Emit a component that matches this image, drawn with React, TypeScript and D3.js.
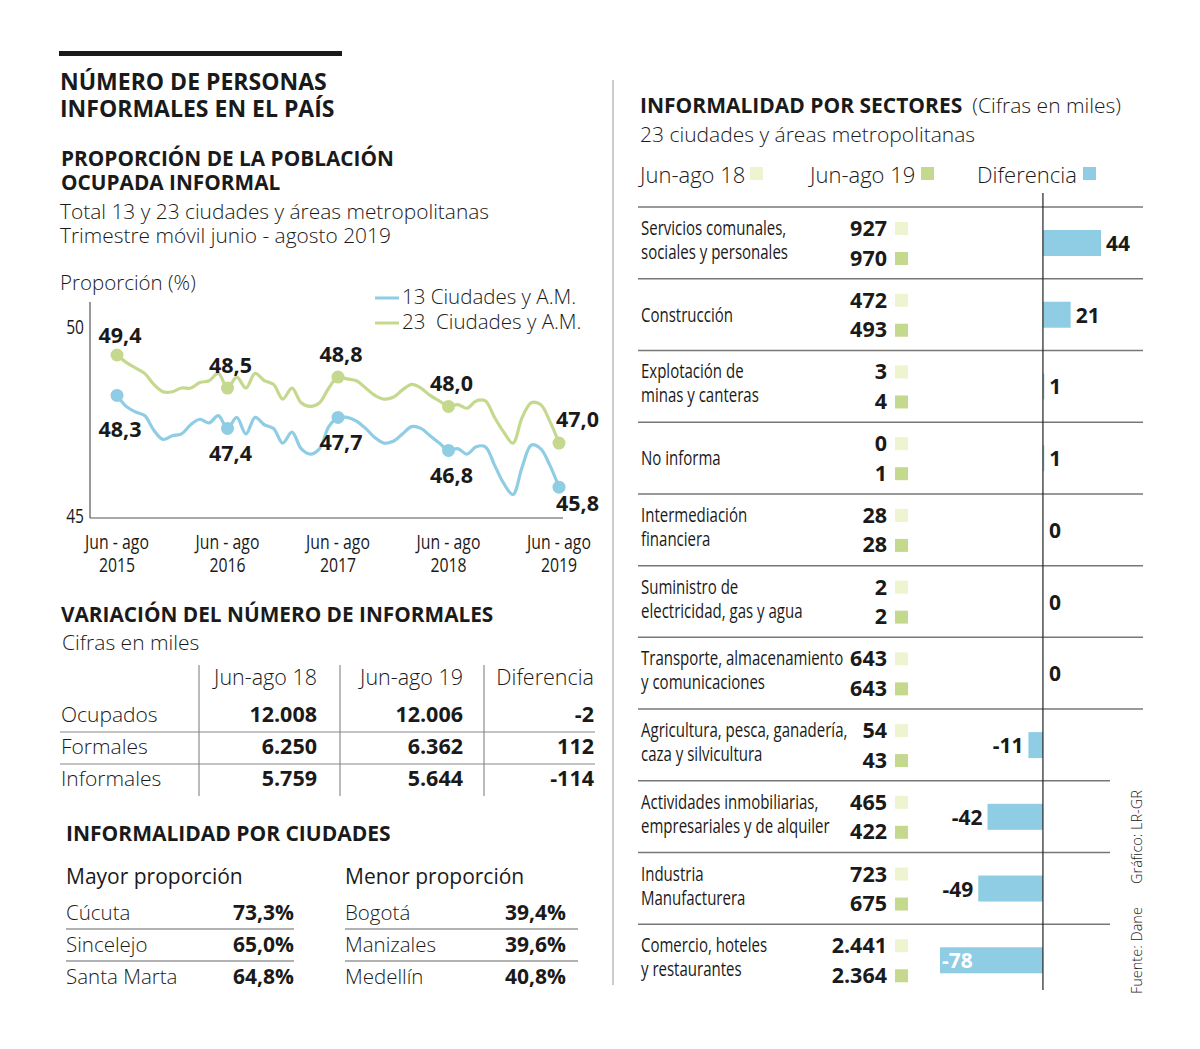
import * as d3 from 'd3';

// monthly rolling quarters, jun-ago 2015 ... jun-ago 2019
const MONTHS_13 = [
  48.3, 48.0, 47.85, 47.75, 47.35, 47.1, 47.2, 47.25, 47.5, 47.65, 47.55, 47.75,
  47.4, 47.7, 47.25, 47.7, 47.5, 47.4, 47.0, 47.3, 46.85, 46.7, 46.85, 47.45,
  47.7, 47.7, 47.6, 47.4, 47.15, 47.0, 47.05, 47.25, 47.45, 47.4, 47.2, 47.0,
  46.8, 46.85, 46.7, 46.9, 46.9, 46.4, 45.9, 45.6, 46.35, 46.95, 46.85, 46.4,
  45.8,
];
const MONTHS_23 = [
  49.4, 49.2, 49.05, 48.9, 48.6, 48.4, 48.4, 48.5, 48.5, 48.65, 48.7, 48.9,
  48.5, 48.8, 48.5, 48.9, 48.7, 48.6, 48.2, 48.5, 48.1, 48.0, 48.1, 48.5,
  48.8, 48.75, 48.7, 48.5, 48.3, 48.2, 48.25, 48.45, 48.6, 48.5, 48.3, 48.15,
  48.0, 48.05, 47.95, 48.15, 48.15, 47.7, 47.3, 47.0, 47.7, 48.1, 48.05, 47.6,
  47.0,
];
const YEARS = ['2015', '2016', '2017', '2018', '2019'];
const Y_TICKS = [45, 50];

const VAR_ROWS = ['Ocupados', 'Formales', 'Informales'];
const VAR_COLS = ['Jun-ago 18', 'Jun-ago 19', 'Diferencia'];
const VAR_18 = [12008, 6250, 5759];
const VAR_19 = [12006, 6362, 5644];
const VAR_DIFF = [-2, 112, -114];

const MAYOR_CITIES = ['Cúcuta', 'Sincelejo', 'Santa Marta'];
const MAYOR_VALUES = [73.3, 65.0, 64.8];
const MENOR_CITIES = ['Bogotá', 'Manizales', 'Medellín'];
const MENOR_VALUES = [39.4, 39.6, 40.8];

const SECTORS = [
  ['Servicios comunales,', 'sociales y personales'],
  ['Construcción'],
  ['Explotación de', 'minas y canteras'],
  ['No informa'],
  ['Intermediación', 'financiera'],
  ['Suministro de', 'electricidad, gas y agua'],
  ['Transporte, almacenamiento', 'y comunicaciones'],
  ['Agricultura, pesca, ganadería,', 'caza y silvicultura'],
  ['Actividades inmobiliarias,', 'empresariales y de alquiler'],
  ['Industria', 'Manufacturera'],
  ['Comercio, hoteles', 'y restaurantes'],
];
const SECTOR_18 = [927, 472, 3, 0, 28, 2, 643, 54, 465, 723, 2441];
const SECTOR_19 = [970, 493, 4, 1, 28, 2, 643, 43, 422, 675, 2364];
const SECTOR_DIFF = [44, 21, 1, 1, 0, 0, 0, -11, -42, -49, -78];

const BLUE = '#8ecde3';
const GREEN = '#c5d98e';
const CREAM = '#eef3d0';
const INK = '#1a1a1a';
const SANS = "'Open Sans', 'Noto Sans', sans-serif";

const locale = d3.formatLocale({ decimal: ',', thousands: '.', grouping: [3], currency: ['', ''], minus: '-' });
const fmtInt = locale.format(',d');
const fmtOne = locale.format('.1f');

// no condensed face installed, so squeeze Open Sans horizontally
const Narrow = ({ x, y, size, anchor = 'start', squeeze = 0.78, children }: any) => (
  <text
    transform={`translate(${x},${y}) scale(${squeeze},1)`}
    textAnchor={anchor}
    fontFamily={SANS}
    fontSize={size}
    fill={INK}
  >
    {children}
  </text>
);

const LineChart = () => {
  const xScale = d3.scaleLinear().domain([0, MONTHS_13.length - 1]).range([117, 559]);
  const yScale = d3.scaleLinear().domain([45, 50]).range([516.5, 333]);
  const lineBuilder = d3
    .line<number>()
    .x((d, i) => xScale(i))
    .y((d) => yScale(d))
    .curve(d3.curveCatmullRom.alpha(0.5));

  const series = [
    { name: '13 Ciudades y A.M.', values: MONTHS_13, color: BLUE, dy: 33 },
    { name: '23  Ciudades y A.M.', values: MONTHS_23, color: GREEN, dy: -15 },
  ];
  const yearIdx = YEARS.map((_, i) => i * 12);

  return (
    <g>
      <text x={60} y={290} fontFamily={SANS} fontWeight={300} fontSize={20.5} fill={INK}>
        Proporción (%)
      </text>
      {series.map((s, i) => (
        <g key={s.name}>
          <line x1={375} x2={399} y1={298 + i * 25} y2={298 + i * 25} stroke={s.color} strokeWidth={3} />
          <text x={402} y={304 + i * 25} fontFamily={SANS} fontWeight={300} fontSize={20.5} fill={INK} style={{ whiteSpace: 'pre' }}>
            {s.name}
          </text>
        </g>
      ))}
      <line x1={90} x2={90} y1={302} y2={518} stroke="#555" strokeWidth={1.2} />
      <line x1={90} x2={563} y1={518} y2={518} stroke="#555" strokeWidth={1.2} />
      {Y_TICKS.map((t) => (
        <Narrow key={t} x={84} y={yScale(t) + (t === 50 ? 1 : 6)} size={20} anchor="end">
          {t}
        </Narrow>
      ))}
      {YEARS.map((yr, i) => (
        <Narrow key={yr} x={xScale(yearIdx[i])} y={549} size={20} anchor="middle" squeeze={0.79}>
          <tspan x={0}>Jun - ago</tspan>
          <tspan x={0} dy={23}>{yr}</tspan>
        </Narrow>
      ))}
      {series.map((s) => (
        <path key={s.name} d={lineBuilder(s.values) || ''} fill="none" stroke={s.color} strokeWidth={3.2} />
      ))}
      {series.map((s) =>
        yearIdx.map((idx, j) => {
          const cx = xScale(idx);
          const cy = yScale(s.values[idx]);
          const last = j === yearIdx.length - 1;
          return (
            <g key={s.name + idx}>
              <circle cx={cx} cy={cy} r={6.5} fill={s.color} />
              <text
                x={last ? cx - 3 : cx + 3}
                y={cy + (last ? (s.dy > 0 ? 24 : -16) : j === 0 && s.dy > 0 ? 42 : j === 0 ? -12 : s.dy)}
                textAnchor={last ? 'start' : 'middle'}
                fontFamily={SANS}
                fontWeight={700}
                fontSize={21.5}
                fill={INK}
              >
                {fmtOne(s.values[idx])}
              </text>
            </g>
          );
        }),
      )}
    </g>
  );
};

const VariationTable = () => {
  const colX = [199, 340, 484];
  const colRight = [317, 463, 594];
  const rowY = d3.scaleBand<string>().domain(VAR_ROWS).range([700, 796]);
  const cols = [VAR_18, VAR_19, VAR_DIFF];
  return (
    <g>
      <text x={61} y={622} fontFamily={SANS} fontWeight={700} fontSize={20.8} fill={INK}>
        VARIACIÓN DEL NÚMERO DE INFORMALES
      </text>
      <text x={62} y={650} fontFamily={SANS} fontWeight={300} fontSize={21} fill={INK}>
        Cifras en miles
      </text>
      {colX.map((x) => (
        <line key={x} x1={x} x2={x} y1={665} y2={796} stroke="#777" strokeWidth={1} />
      ))}
      {VAR_COLS.map((c, i) => (
        <text key={c} x={colRight[i]} y={685} textAnchor="end" fontFamily={SANS} fontWeight={300} fontSize={21.5} fill={INK}>
          {c}
        </text>
      ))}
      {VAR_ROWS.map((r, i) => {
        const top = rowY(r) || 0;
        return (
          <g key={r}>
            {i > 0 && <line x1={60} x2={595} y1={top} y2={top} stroke="#888" strokeWidth={1.2} />}
            <text x={61} y={top + 22} fontFamily={SANS} fontWeight={300} fontSize={21} fill={INK}>
              {r}
            </text>
            {cols.map((vals, j) => (
              <text key={j} x={colRight[j]} y={top + 22} textAnchor="end" fontFamily={SANS} fontWeight={700} fontSize={21.5} fill={INK}>
                {fmtInt(vals[i])}
              </text>
            ))}
          </g>
        );
      })}
    </g>
  );
};

const CityTable = () => {
  const groups = [
    { title: 'Mayor proporción', names: MAYOR_CITIES, values: MAYOR_VALUES, x0: 66, x1: 294 },
    { title: 'Menor proporción', names: MENOR_CITIES, values: MENOR_VALUES, x0: 345, x1: 566, line1: 578 },
  ];
  const rowY = d3.scaleBand<number>().domain([0, 1, 2]).range([897, 993]);
  return (
    <g>
      <text x={66} y={841} fontFamily={SANS} fontWeight={700} fontSize={21} fill={INK}>
        INFORMALIDAD POR CIUDADES
      </text>
      {groups.map((g) => (
        <g key={g.title}>
          <text x={g.x0} y={884} fontFamily={SANS} fontSize={21} fill={INK}>
            {g.title}
          </text>
          {g.names.map((n, i) => {
            const top = rowY(i) || 0;
            return (
              <g key={n}>
                {i > 0 && (
                  <line x1={g.x0} x2={g.line1 || g.x1} y1={top} y2={top} stroke="#999" strokeWidth={1.5} />
                )}
                <text x={g.x0} y={top + 23} fontFamily={SANS} fontWeight={300} fontSize={20.5} fill={INK}>
                  {n}
                </text>
                <text x={g.x1} y={top + 23} textAnchor="end" fontFamily={SANS} fontWeight={700} fontSize={21} fill={INK}>
                  {fmtOne(g.values[i]) + '%'}
                </text>
              </g>
            );
          })}
        </g>
      ))}
    </g>
  );
};

const SectorChart = () => {
  const rows = d3.scaleBand<number>().domain(d3.range(SECTORS.length)).range([207, 996]);
  const xScale = d3
    .scaleLinear()
    .domain([d3.min(SECTOR_DIFF) || 0, d3.max(SECTOR_DIFF) || 0])
    .range([940, 1101]);
  const x0 = xScale(0);
  const minDiff = d3.min(SECTOR_DIFF) || 0;
  const legend = [
    { label: 'Jun-ago 18', x: 640, sq: 750, color: CREAM },
    { label: 'Jun-ago 19', x: 810, sq: 921, color: GREEN },
    { label: 'Diferencia', x: 977, sq: 1083, color: BLUE },
  ];
  return (
    <g>
      <text x={640} y={113} fontFamily={SANS} fill={INK}>
        <tspan fontWeight={700} fontSize={21}>INFORMALIDAD POR SECTORES</tspan>
        <tspan fontWeight={300} fontSize={21} dx={10}>(Cifras en miles)</tspan>
      </text>
      <text x={640} y={142} fontFamily={SANS} fontWeight={300} fontSize={21} fill={INK}>
        23 ciudades y áreas metropolitanas
      </text>
      {legend.map((l) => (
        <g key={l.label}>
          <text x={l.x} y={183} fontFamily={SANS} fontWeight={300} fontSize={22} fill={INK}>
            {l.label}
          </text>
          <rect x={l.sq} y={167} width={13} height={13} fill={l.color} />
        </g>
      ))}
      {SECTORS.map((lines, i) => {
        const top = rows(i) || 0;
        const diff = SECTOR_DIFF[i];
        const barX = Math.min(xScale(diff), x0);
        const barW = Math.abs(xScale(diff) - x0);
        const inside = diff === minDiff;
        let labelX = x0 + 6;
        let anchor = 'start';
        if (diff > 0) labelX = xScale(diff) + 5;
        if (diff < 0) {
          labelX = inside ? xScale(diff) + 2 : xScale(diff) - 5;
          anchor = inside ? 'start' : 'end';
        }
        return (
          <g key={i}>
            <line x1={638} x2={i >= 8 ? 1110 : 1143} y1={top} y2={top} stroke="#777" strokeWidth={1.5} />
            <Narrow x={641} y={lines.length === 1 ? top + 43 : top + 28} size={19.5} squeeze={0.77}>
              {lines.map((t, k) => (
                <tspan key={k} x={0} y={k * 24}>
                  {t}
                </tspan>
              ))}
            </Narrow>
            {[SECTOR_18[i], SECTOR_19[i]].map((v, k) => (
              <g key={k}>
                <text x={887} y={top + 29 + k * 29.5} textAnchor="end" fontFamily={SANS} fontWeight={700} fontSize={21.5} fill={INK}>
                  {fmtInt(v)}
                </text>
                <rect x={895} y={top + 15 + k * 30} width={13} height={13} fill={k === 0 ? CREAM : GREEN} />
              </g>
            ))}
            {diff !== 0 && <rect x={barX} y={top + 23} width={barW} height={26} fill={BLUE} />}
            <text
              x={labelX}
              y={top + 44}
              textAnchor={anchor}
              fontFamily={SANS}
              fontWeight={700}
              fontSize={21}
              fill={inside ? '#fff' : INK}
            >
              {fmtInt(diff)}
            </text>
          </g>
        );
      })}
      <line x1={x0} x2={x0} y1={193} y2={990} stroke="#222" strokeWidth={1.2} />
      <text transform="translate(1142,884) rotate(-90)" fontFamily={SANS} fontWeight={300} fontSize={14.5} fill={INK}>
        Gráfico: LR-GR
      </text>
      <text transform="translate(1142,994) rotate(-90)" fontFamily={SANS} fontWeight={300} fontSize={14.5} fill={INK}>
        Fuente: Dane
      </text>
    </g>
  );
};

const App = () => {
  return (
    <svg width={1200} height={1049} style={{ position: 'absolute', left: 0, top: 0, background: '#fff' }}>
      <rect x={59} y={51} width={283} height={5} fill={INK} />
      <text x={60} y={90} fontFamily={SANS} fontWeight={700} fontSize={23} fill={INK}>
        NÚMERO DE PERSONAS
      </text>
      <text x={60} y={117} fontFamily={SANS} fontWeight={700} fontSize={23} fill={INK}>
        INFORMALES EN EL PAÍS
      </text>
      <text x={61} y={166} fontFamily={SANS} fontWeight={700} fontSize={20.8} fill={INK}>
        PROPORCIÓN DE LA POBLACIÓN
      </text>
      <text x={61} y={190} fontFamily={SANS} fontWeight={700} fontSize={20.8} fill={INK}>
        OCUPADA INFORMAL
      </text>
      <text x={60} y={219} fontFamily={SANS} fontWeight={300} fontSize={20.9} fill={INK}>
        Total 13 y 23 ciudades y áreas metropolitanas
      </text>
      <text x={60} y={243} fontFamily={SANS} fontWeight={300} fontSize={20.9} fill={INK}>
        Trimestre móvil junio - agosto 2019
      </text>
      <LineChart />
      <VariationTable />
      <CityTable />
      <line x1={613} x2={613} y1={80} y2={985} stroke="#999" strokeWidth={1} />
      <SectorChart />
    </svg>
  );
};

export default App;
